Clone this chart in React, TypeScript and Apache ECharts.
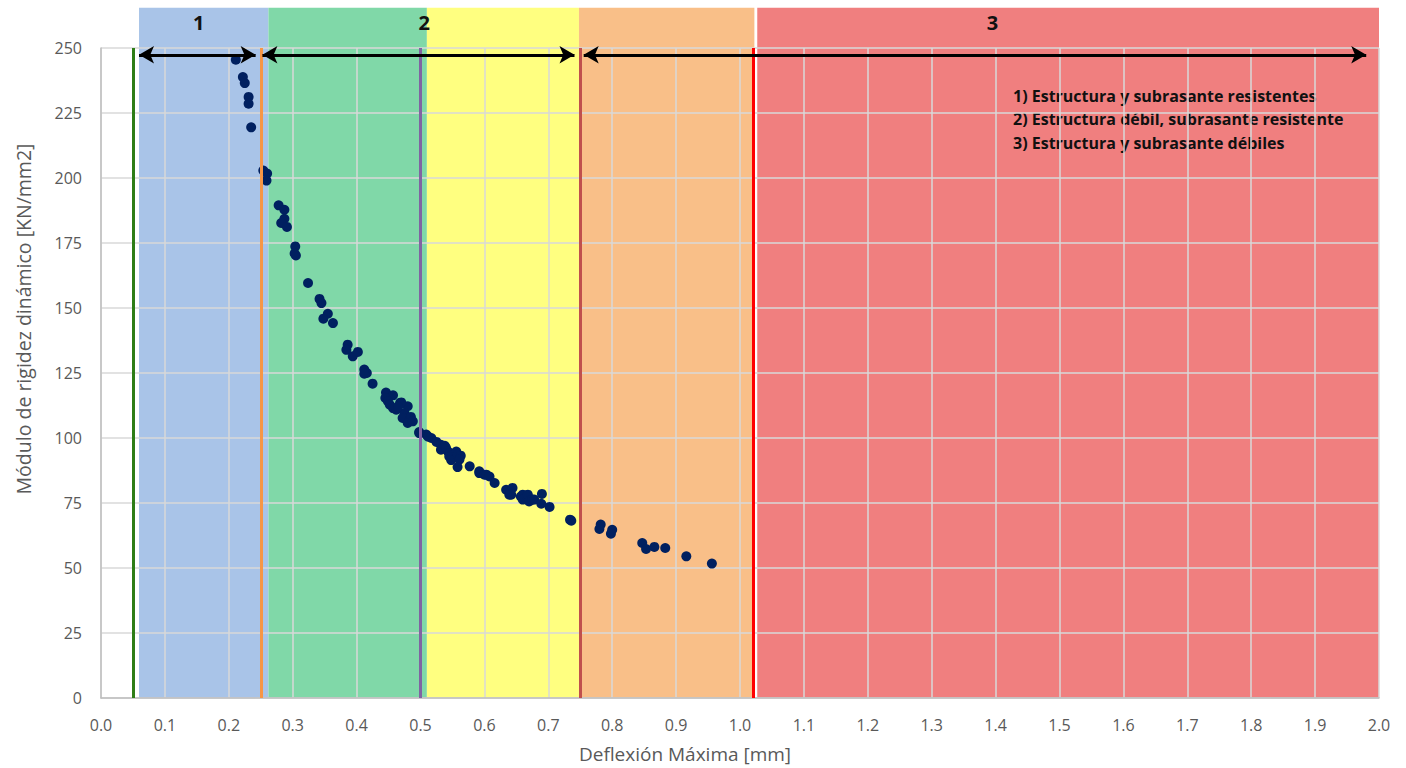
import React, { useEffect, useRef } from "react";
import * as echarts from "echarts";

// ---- data ----
const deflection = [
  0.211, 0.222, 0.225, 0.231, 0.231, 0.235, 0.254, 0.26, 0.259,
  0.278, 0.287, 0.287, 0.282, 0.291, 0.304, 0.305, 0.303, 0.324, 0.342, 0.345,
  0.355, 0.348, 0.363, 0.386, 0.384, 0.394, 0.402, 0.412, 0.416, 0.412, 0.425,
  0.446, 0.457, 0.445, 0.449, 0.468, 0.457, 0.48, 0.462, 0.475, 0.472, 0.485,
  0.48, 0.488, 0.47, 0.452, 0.465, 0.498, 0.498, 0.509, 0.517, 0.512, 0.525,
  0.532, 0.532, 0.538, 0.54, 0.543, 0.545, 0.545, 0.55, 0.548, 0.556, 0.558,
  0.563, 0.561, 0.558, 0.577, 0.592, 0.592, 0.6, 0.603, 0.608, 0.616, 0.634,
  0.644, 0.639, 0.642, 0.657, 0.66, 0.66, 0.668, 0.668, 0.67, 0.675, 0.678,
  0.69, 0.689, 0.702, 0.734, 0.736, 0.782, 0.78, 0.8, 0.798, 0.847, 0.853,
  0.866, 0.883, 0.916, 0.956,
];
const modulus = [
  245.5, 238.8, 236.5, 231.2, 228.6, 219.5, 202.9, 201.7, 199.0,
  189.5, 187.8, 184.3, 182.7, 181.2, 173.7, 170.2, 171.0, 159.6, 153.5, 151.9,
  147.8, 145.9, 144.2, 135.9, 133.9, 131.4, 133.1, 126.3, 125.0, 124.7, 120.9,
  117.5, 116.4, 115.4, 114.1, 113.5, 111.5, 112.2, 110.9, 109.6, 107.7, 108.1,
  105.8, 106.4, 113.7, 112.8, 112.0, 102.3, 101.9, 101.3, 100.0, 100.5, 98.5,
  97.4, 95.5, 97.0, 96.2, 94.8, 94.2, 92.9, 93.5, 91.5, 94.8, 93.6,
  93.2, 91.7, 88.8, 89.1, 87.2, 86.5, 85.9, 85.9, 85.2, 82.7, 80.1,
  80.8, 78.2, 78.2, 77.5, 78.2, 76.3, 76.9, 78.2, 75.6, 76.3, 76.3,
  78.5, 74.7, 73.5, 68.6, 68.2, 66.7, 65.0, 64.7, 63.2, 59.6, 57.3,
  58.1, 57.7, 54.5, 51.7,
];

const zoneBounds = [
  [0.0595, 0.262],
  [0.262, 0.51],
  [0.51, 0.748],
  [0.748, 1.0225],
  [1.027, 2.0],
];
const zoneColors = ["#a9c4e8", "#80d8a8", "#ffff80", "#f9bf88", "#f07f7f"];
const bandTop = 265.5;

const zoneLabels = ["1", "2", "3"];
const zoneLabelX = [0.153, 0.506, 1.395];
const zoneLabelY = 259.7;

const limitX = [0.05, 0.25, 0.5, 0.748, 1.0225];
const limitColors = ["#2e7d16", "#f79646", "#8064a2", "#c0504d", "#ff0000"];

const arrowRanges = [
  [0.0595, 0.242],
  [0.2526, 0.741],
  [0.7554, 1.98],
];
const arrowY = 247.4;

const noteLines = [
  "1) Estructura y subrasante resistentes",
  "2) Estructura débil, subrasante resistente",
  "3) Estructura y subrasante débiles",
];

const xTitle = "Deflexión Máxima [mm]";
const yTitle = "Módulo de rigidez dinámico [KN/mm2]";

const FONT = "'Open Sans', 'Noto Sans', sans-serif";

export default function App() {
  const ref = useRef<HTMLDivElement>(null);

  useEffect(() => {
    document.body.style.margin = "0";
    if (!ref.current) return;
    const chart = echarts.init(ref.current, undefined, { renderer: "svg" });

    const points = deflection.map((d, i) => [d, modulus[i]]);

    const option: any = {
      animation: false,
      backgroundColor: "#ffffff",
      textStyle: { fontFamily: FONT },
      grid: { left: 101, right: 27, top: 48, bottom: 70, containLabel: false },
      xAxis: {
        type: "value",
        min: 0,
        max: 2,
        interval: 0.1,
        z: 1,
        axisLine: { show: true, lineStyle: { color: "#bfbfbf", width: 1.5 } },
        axisTick: { show: false },
        splitLine: { show: true, lineStyle: { color: "#d9d9d9", width: 1.5 } },
        axisLabel: {
          formatter: (v: number) => v.toFixed(1),
          color: "#595959",
          fontSize: 16,
          margin: 19,
          fontFamily: FONT,
        },
      },
      yAxis: {
        type: "value",
        min: 0,
        max: 250,
        interval: 25,
        z: 1,
        axisLine: { show: true, lineStyle: { color: "#bfbfbf", width: 1.5 } },
        axisTick: { show: false },
        splitLine: { show: true, lineStyle: { color: "#d9d9d9", width: 1.5 } },
        axisLabel: { color: "#595959", fontSize: 16, margin: 19, fontFamily: FONT },
      },
      graphic: [
        {
          type: "text",
          x: 23,
          y: 319,
          rotation: Math.PI / 2,
          style: {
            text: yTitle,
            font: `19.5px ${FONT}`,
            fill: "#595959",
            align: "center",
            verticalAlign: "middle",
          },
        },
        {
          type: "text",
          x: 685,
          y: 754,
          style: {
            text: xTitle,
            font: `19px ${FONT}`,
            fill: "#595959",
            align: "center",
            verticalAlign: "middle",
          },
        },
        {
          type: "text",
          left: 1013,
          top: 84,
          style: {
            text: noteLines.join("\n"),
            font: `bold 16px ${FONT}`,
            fill: "#111111",
            lineHeight: 23.5,
          },
        },
      ],
      series: [
        {
          type: "custom",
          name: "zones",
          z: -1,
          silent: true,
          clip: false,
          data: zoneBounds.map((b) => [b[0], b[1], bandTop]),
          encode: { x: [0, 1], y: 2 },
          renderItem: (params: any, api: any) => {
            const p0 = api.coord([api.value(0), 0]);
            const p1 = api.coord([api.value(1), api.value(2)]);
            return {
              type: "rect",
              shape: { x: p0[0], y: p1[1], width: p1[0] - p0[0], height: p0[1] - p1[1] },
              style: { fill: zoneColors[params.dataIndex] },
            };
          },
        },
        {
          type: "custom",
          name: "zoneLabels",
          z: 1,
          silent: true,
          clip: false,
          data: zoneLabelX.map((x) => [x, zoneLabelY]),
          encode: { x: 0, y: 1 },
          renderItem: (params: any, api: any) => {
            const p = api.coord([api.value(0), api.value(1)]);
            return {
              type: "text",
              x: p[0],
              y: p[1],
              style: {
                text: zoneLabels[params.dataIndex],
                font: `bold 20px ${FONT}`,
                fill: "#111111",
                align: "center",
                verticalAlign: "middle",
              },
            };
          },
        },
        {
          type: "scatter",
          name: "data",
          data: points,
          symbol: "circle",
          symbolSize: 10,
          itemStyle: { color: "#002060", opacity: 1 },
          silent: true,
          markLine: {
            silent: true,
            symbol: ["none", "none"],
            label: { show: false },
            data: limitX.map((x, i) => ({
              xAxis: x,
              lineStyle: { color: limitColors[i], width: 3, type: "solid" },
            })),
          },
        },
        {
          type: "scatter",
          name: "arrows",
          data: [],
          silent: true,
          markLine: {
            silent: true,
            symbol: ["arrow", "arrow"],
            symbolSize: [13, 15],
            label: { show: false },
            lineStyle: { color: "#000000", width: 3, type: "solid" },
            data: arrowRanges.map((r) => [
              { coord: [r[0], arrowY] },
              { coord: [r[1], arrowY] },
            ]),
          },
        },
      ],
    };

    chart.setOption(option);
    return () => chart.dispose();
  }, []);

  return <div ref={ref} style={{ width: 1406, height: 768 }} />;
}
